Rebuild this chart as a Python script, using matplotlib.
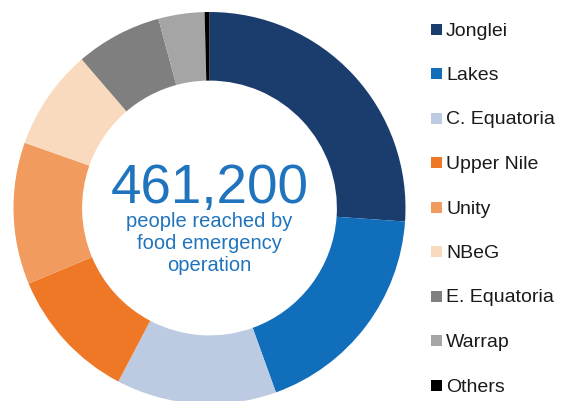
import matplotlib.pyplot as plt
from matplotlib.patches import Rectangle

plt.rcParams['font.family'] = ['Liberation Sans', 'DejaVu Sans']

# data
states = ['Jonglei', 'Lakes', 'C. Equatoria', 'Upper Nile', 'Unity',
          'NBeG', 'E. Equatoria', 'Warrap', 'Others']
shares = [26.1, 18.4, 13.2, 11.0, 11.7, 8.3, 7.1, 3.8, 0.4]
colors = ['#1b3d6d', '#106ebb', '#bccbe2', '#ee7826', '#f19b5e',
          '#fadabe', '#7f7f7f', '#a5a5a5', '#000000']
total_label = '461,200'
sub_label = 'people reached by\nfood emergency\noperation'

W, H = 563, 401
fig = plt.figure(figsize=(W / 100, H / 100), dpi=100)

# pie axes: centre (209.5, 208) px from top-left, radius 196 px
cx, cy, r = 209.5, H - 208, 196
ax = fig.add_axes([(cx - r) / W, (cy - r) / H, 2 * r / W, 2 * r / H])
ax.pie(shares, colors=colors, startangle=90, counterclock=False,
       radius=1, wedgeprops=dict(width=0.35, linewidth=0))
ax.set_xlim(-1, 1)
ax.set_ylim(-1, 1)
ax.set_aspect('equal')
ax.axis('off')

blue = '#1f74bd'
ax.text(0, 0.026, total_label, ha='center', va='baseline', fontsize=39.5, color=blue)
ax.text(0, -0.18, sub_label, ha='center', va='center', fontsize=14.5,
        color=blue, linespacing=1.2)

# legend, drawn by hand
y0, step = 29, 44.5
for i, (name, col) in enumerate(zip(states, colors)):
    yc = H - (y0 + i * step)
    fig.add_artist(Rectangle((431 / W, (yc - 5.5) / H), 11 / W, 11 / H,
                             transform=fig.transFigure, color=col, lw=0))
    fig.text(446 / W, yc / H, name, ha='left', va='center_baseline',
             fontsize=14, color='#1a1a1a')

fig.savefig('out.png', dpi=100)
